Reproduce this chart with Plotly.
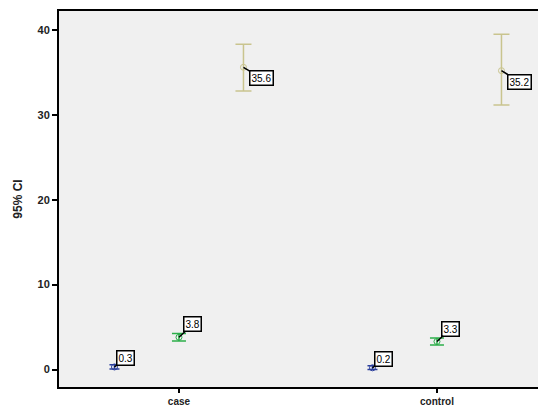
import plotly.graph_objects as go

groups = ["case", "control"]

blue_mean = [0.3, 0.2]
blue_low = [0.05, 0.0]
blue_high = [0.55, 0.45]

green_mean = [3.8, 3.3]
green_low = [3.35, 2.9]
green_high = [4.25, 3.7]

tan_mean = [35.6, 35.2]
tan_low = [32.8, 31.15]
tan_high = [38.3, 39.5]

y_ticks = [0, 10, 20, 30, 40]

series = [
    (blue_mean, blue_low, blue_high, "#2b3f9c", -0.25, 5, (11, -9)),
    (green_mean, green_low, green_high, "#2cae4a", 0.0, 7, (14, -13)),
    (tan_mean, tan_low, tan_high, "#c9c48e", 0.25, 8, (18, 11)),
]

fig = go.Figure()
annotations = []
for means, lows, highs, color, off, capw, (ax, ay) in series:
    xs = [i + off for i in range(len(groups))]
    fig.add_trace(go.Scatter(
        x=xs, y=means, mode="markers",
        marker=dict(symbol="circle-open", size=6, color=color, line=dict(width=1, color=color)),
        error_y=dict(type="data", symmetric=False,
                     array=[h - m for h, m in zip(highs, means)],
                     arrayminus=[m - l for m, l in zip(means, lows)],
                     color=color, thickness=1.5, width=capw),
        showlegend=False, hoverinfo="skip",
    ))
    for x, m in zip(xs, means):
        annotations.append(dict(
            x=x, y=m, xref="x", yref="y", text=f"{m:.1f}",
            showarrow=True, arrowhead=0, arrowwidth=1.5, arrowcolor="black",
            ax=ax, ay=ay, standoff=0,
            font=dict(family="Arial, Liberation Sans", size=10, color="black"),
            bgcolor="white", bordercolor="black", borderwidth=1.5, borderpad=1,
        ))

fig.update_layout(
    width=538, height=409,
    margin=dict(l=51, r=0, t=3, b=30),
    paper_bgcolor="white", plot_bgcolor="#f0f0f0",
    annotations=annotations,
    font=dict(family="Arial, Liberation Sans", color="#222222"),
)
fig.update_xaxes(
    range=[-0.465, 1.4226], tickmode="array", tickvals=[0, 1], ticktext=[f"<b>{g}</b>" for g in groups],
    showline=True, linecolor="black", linewidth=2, mirror=True,
    ticks="outside", ticklen=4, tickcolor="black", tickwidth=1.5,
    showgrid=False, zeroline=False, tickfont=dict(size=10),
)
fig.update_yaxes(
    range=[-2.06, 42.23], tickmode="array", tickvals=y_ticks, ticktext=[f"<b>{t}</b>" for t in y_ticks],
    showline=True, linecolor="black", linewidth=2, mirror=False,
    ticks="outside", ticklen=5, tickcolor="black", tickwidth=1.5,
    showgrid=False, zeroline=False, tickfont=dict(size=11),
    title=dict(text="<b>95% CI</b>", font=dict(size=12), standoff=12),
)

fig.write_html("out.html")
